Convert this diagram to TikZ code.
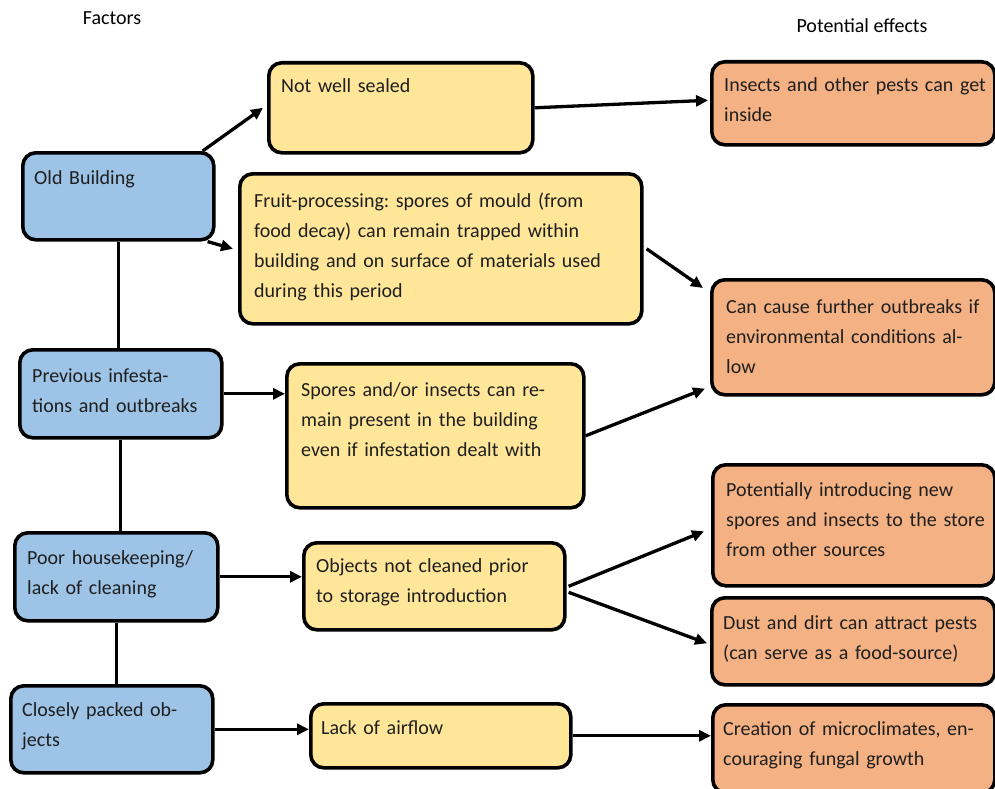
\documentclass[tikz,border=0pt]{standalone}
\usepackage{fontspec}
\setmainfont{Carlito}
\frenchspacing
\definecolor{FactorBlue}{RGB}{157,195,230}
\definecolor{IssueYellow}{RGB}{255,230,153}
\definecolor{EffectOrange}{RGB}{244,177,131}
\usetikzlibrary{arrows.meta}

\begin{document}
\begin{tikzpicture}[
        x=1pt, y=-1pt,
        box/.style={draw=black, line width=3.6pt, rectangle, rounded corners=13pt, anchor=north west, inner sep=0pt},
        factor/.style={box, fill=FactorBlue},
        issue/.style={box, fill=IssueYellow},
        effect/.style={box, fill=EffectOrange},
        intext/.style={anchor=base west, inner sep=0pt, text width=500pt, align=left, text=black!88, font=\fontsize{20}{30}\selectfont},
        heading/.style={inner sep=0pt, font=\fontsize{20}{30}\selectfont},
        arrow/.style={-{Triangle[length=12pt,width=11pt]}, line width=3.3pt},
        link/.style={line width=3.3pt}
      ]
        \useasboundingbox (0,0) rectangle (995,789);

        \node (factors) [heading] at (112,18) {Factors};
        \node (effects) [heading] at (862,26) {Potential effects};

        \node (old) [factor, minimum width=191pt, minimum height=87pt] at (21,151) {};
        \node (old-t) [intext] at ([xshift=13pt,yshift=-33pt]old.north west) {Old Building};
        \node (prev) [factor, minimum width=202pt, minimum height=88pt] at (18,348) {};
        \node (prev-t) [intext] at ([xshift=14pt,yshift=-34pt]prev.north west) {Previous infesta-\\tions and outbreaks};
        \node (poor) [factor, minimum width=203pt, minimum height=88pt] at (13,531) {};
        \node (poor-t) [intext] at ([xshift=14pt,yshift=-33pt]poor.north west) {Poor housekeeping/\\lack of cleaning};
        \node (packed) [factor, minimum width=202pt, minimum height=87pt] at (9,684) {};
        \node (packed-t) [intext] at ([xshift=13pt,yshift=-32pt]packed.north west) {Closely packed ob-\\jects};

        \node (seal) [issue, minimum width=264pt, minimum height=90pt] at (267,61) {};
        \node (seal-t) [intext] at ([xshift=14pt,yshift=-32pt]seal.north west) {Not well sealed};
        \node (fruit) [issue, minimum width=402pt, minimum height=150pt] at (238,172) {};
        \node (fruit-t) [intext] at ([xshift=16pt,yshift=-35pt]fruit.north west) {Fruit-processing: spores of mould (from\\food decay) can remain trapped within\\building and on surface of materials used\\during this period};
        \node (spores) [issue, minimum width=297pt, minimum height=144pt] at (285,362) {};
        \node (spores-t) [intext] at ([xshift=16pt,yshift=-34pt]spores.north west) {Spores and/or insects can re-\\main present in the building\\even if infestation dealt with};
        \node (obj) [issue, minimum width=261pt, minimum height=87pt] at (302,541) {};
        \node (obj-t) [intext] at ([xshift=14pt,yshift=-31pt]obj.north west) {Objects not cleaned prior\\to storage introduction};
        \node (air) [issue, minimum width=260pt, minimum height=64pt] at (309,702) {};
        \node (air-t) [intext] at ([xshift=12pt,yshift=-32pt]air.north west) {Lack of airflow};

        \node (ins) [effect, minimum width=283pt, minimum height=83pt] at (710,60) {};
        \node (ins-t) [intext] at ([xshift=14pt,yshift=-32pt]ins.north west) {Insects and other pests can get\\inside};
        \node (cause) [effect, minimum width=283pt, minimum height=115pt] at (710,278) {};
        \node (cause-t) [intext] at ([xshift=16pt,yshift=-35pt]cause.north west) {Can cause further outbreaks if\\environmental conditions al-\\low};
        \node (pot) [effect, minimum width=282pt, minimum height=121pt] at (711,463) {};
        \node (pot-t) [intext] at ([xshift=15pt,yshift=-33pt]pot.north west) {Potentially introducing new\\spores and insects to the store\\from other sources};
        \node (dust) [effect, minimum width=283pt, minimum height=87pt] at (710,596) {};
        \node (dust-t) [intext] at ([xshift=13pt,yshift=-33pt]dust.north west) {Dust and dirt can attract pests\\(can serve as a food-source)};
        \node (micro) [effect, minimum width=282pt, minimum height=88pt] at (711,703) {};
        \node (micro-t) [intext] at ([xshift=12pt,yshift=-32pt]micro.north west) {Creation of microclimates, en-\\couraging fungal growth};

        \draw [link] (old) -- (old |- prev.north);
        \draw [link] (prev) -- (prev |- poor.north);
        \draw [link] (poor) -- (poor |- packed.north);

        \draw [arrow] ([xshift=-13pt]old.north east) -- ([xshift=-4pt]seal.west);
        \draw [arrow] ([xshift=-8pt]old.south east) -- ([xshift=-5pt]fruit.west);
        \draw [arrow] (prev) -- (prev -| spores.west);
        \draw [arrow] (poor) -- (poor -| obj.west);
        \draw [arrow] (packed) -- (packed -| air.west);

        \draw [arrow] (seal.east) -- ([xshift=-2pt,yshift=3pt]ins.west);
        \draw [arrow] ([xshift=3pt]fruit.east) -- ([xshift=-7pt,yshift=-10pt]cause.north west);
        \draw [arrow] (spores.east) -- ([xshift=-5pt,yshift=8pt]cause.south west);
        \draw [arrow] ([xshift=2pt]obj.east) -- ([xshift=-7pt,yshift=-6pt]pot.west);
        \draw [arrow] ([xshift=2pt,yshift=-6pt]obj.east) -- ([xshift=-3pt,yshift=-2pt]dust.west);
        \draw [arrow] (air) -- (air -| micro.west);
      \end{tikzpicture}
\end{document}
